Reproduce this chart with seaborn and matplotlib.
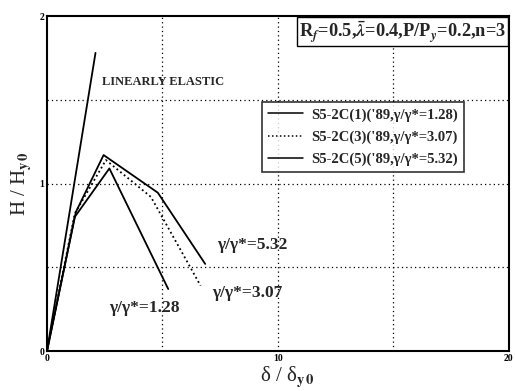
import matplotlib
matplotlib.use("Agg")
import matplotlib.pyplot as plt
import seaborn as sns
import pandas as pd

# Load-deflection envelopes (H/Hy0 vs delta/delta_y0)
x_128 = [0.0, 1.2, 2.7, 5.25]
y_128 = [0.0, 0.80, 1.09, 0.37]
x_307 = [0.0, 1.2, 2.55, 4.5, 6.65]
y_307 = [0.0, 0.82, 1.14, 0.92, 0.39]
x_532 = [0.0, 1.25, 2.45, 4.8, 6.85]
y_532 = [0.0, 0.83, 1.17, 0.945, 0.52]
x_elastic = [0.0, 2.1]
y_elastic = [0.0, 1.78]

series_names = ["S5-2C(1)('89,γ/γ*=1.28)",
                "S5-2C(3)('89,γ/γ*=3.07)",
                "S5-2C(5)('89,γ/γ*=5.32)"]
ratio_labels = ["γ/γ*=1.28", "γ/γ*=3.07", "γ/γ*=5.32"]

x_ticks = [0, 10, 20]
y_ticks = [0, 1, 2]

sns.set_style("white")
plt.rcParams["font.family"] = ["Liberation Serif", "DejaVu Serif"]
plt.rcParams["font.weight"] = "bold"
plt.rcParams["mathtext.fontset"] = "stix"

frames = []
for name, xs, ys in zip(series_names, [x_128, x_307, x_532], [y_128, y_307, y_532]):
    frames.append(pd.DataFrame({"d": xs, "h": ys, "series": name}))
df = pd.concat(frames, ignore_index=True)

fig = plt.figure(figsize=(5.15, 3.91), dpi=100)
ax = fig.add_axes([0.0913, 0.1023, 0.8967, 0.8567])

styles = {series_names[0]: "", series_names[1]: (1, 1.6), series_names[2]: ""}
sns.lineplot(data=df, x="d", y="h", hue="series", style="series",
             palette=["black"] * 3, dashes=styles, sort=False,
             estimator=None, linewidth=1.3, ax=ax)

ax.plot(x_elastic, y_elastic, color="black", linewidth=1.3)

ax.set_xlim(0, 20)
ax.set_ylim(0, 2)
ax.set_xticks(x_ticks)
ax.set_yticks(y_ticks)
ax.set_xticks([5, 15], minor=True)
ax.set_yticks([0.5, 1.5], minor=True)
ax.tick_params(axis="both", which="major", direction="in", length=5,
               width=1.3, labelsize=7, pad=2, colors="black")
ax.tick_params(axis="both", which="minor", direction="in", length=4, width=1.0)

for v in [5, 10, 15]:
    ax.axvline(v, color="black", linestyle=(0, (1, 2.5)), linewidth=0.9, zorder=0)
for v in [0.5, 1.0, 1.5]:
    ax.axhline(v, color="black", linestyle=(0, (1, 2.5)), linewidth=0.9, zorder=0)

for s in ax.spines.values():
    s.set_linewidth(1.5)
    s.set_color("black")

ax.set_xlabel(r"δ / δ$_{\mathbf{y\,0}}$", fontsize=15)
ax.xaxis.label.set_va("center")
ax.xaxis.set_label_coords(0.52, -0.078)
ax.set_ylabel(r"H / H$_{\mathbf{y\,0}}$", fontsize=15, labelpad=4)

ax.text(2.4, 1.59, "LINEARLY ELASTIC", fontsize=9, fontweight="bold")
ax.text(2.7, 0.23, ratio_labels[0], fontsize=12.5)
ax.text(7.15, 0.32, ratio_labels[1], fontsize=12.5)
ax.text(7.35, 0.61, ratio_labels[2], fontsize=12.5)

ax.text(19.88, 1.905, r"R$_f$=0.5,$\bar{\lambda}$=0.4,P/P$_y$=0.2,n=3",
        fontsize=13.2, ha="right", va="center",
        bbox=dict(boxstyle="square,pad=0.1", facecolor="white",
                  edgecolor="black", linewidth=1.0))

leg = ax.legend(loc="upper left", bbox_to_anchor=(0.465, 0.742),
                fontsize=10.5, frameon=True, fancybox=False,
                handlelength=2.4, borderpad=0.4, labelspacing=0.6,
                handletextpad=0.6, borderaxespad=0)
leg.get_frame().set_edgecolor("black")
leg.get_frame().set_linewidth(1.2)
for line in leg.get_lines():
    line.set_linewidth(1.1)

fig.savefig("out.png", dpi=100)
